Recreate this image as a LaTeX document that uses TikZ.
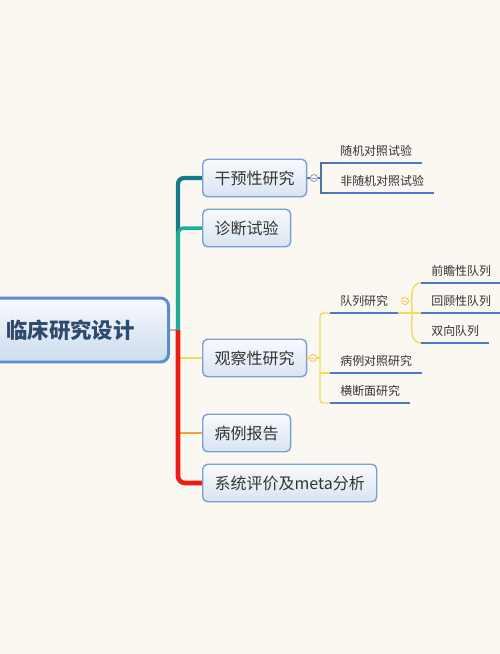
\documentclass[tikz,border=0pt]{standalone}
\usepackage{fontspec}
\setmainfont{Noto Sans CJK SC}
\usepackage{tikz}

\definecolor{paper}{HTML}{FBF8F2}
\definecolor{rootline}{HTML}{5B8ED0}
\definecolor{rootink}{HTML}{2E4A6E}
\definecolor{boxline}{HTML}{7AA0D2}
\definecolor{boxtop}{HTML}{F8FAFD}
\definecolor{boxbot}{HTML}{D9E4F2}
\definecolor{ink}{HTML}{333333}
\definecolor{dteal}{HTML}{157A8C}
\definecolor{lteal}{HTML}{1DAE98}
\definecolor{redline}{HTML}{EE1C10}
\definecolor{orangeline}{HTML}{F5A030}
\definecolor{yellowline}{HTML}{F3DA5C}
\definecolor{slate}{HTML}{5473A3}
\definecolor{ulblue}{HTML}{4A7AC8}

\begin{document}
\begin{tikzpicture}[x=0.02cm,y=-0.02cm,
    every node/.style={inner sep=0pt},
    rootbox/.style={draw=rootline, line width=1.7pt, rounded corners=0.16cm,
      top color=boxtop, bottom color=boxbot!90!rootline,
      minimum width=3.92cm, minimum height=1.28cm, anchor=east,
      font=\fontsize{12.2}{14}\selectfont\bfseries, text=rootink},
    topic/.style={draw=boxline, line width=0.8pt, rounded corners=0.1cm,
      top color=boxtop, bottom color=boxbot, anchor=west,
      minimum height=0.75cm, inner xsep=0.24cm,
      font=\fontsize{9.1}{11}\selectfont, text=ink},
    leaf/.style={anchor=south west, inner xsep=0.2cm, inner ysep=0.1cm,
      text height=0.88em, text depth=0.12em,
      font=\fontsize{6.8}{8}\selectfont, text=ink},
    uline/.style={draw=ulblue, line width=1.4pt},
    knob/.style={circle, draw=#1, fill=white, line width=0.5pt, minimum size=0.14cm,
      path picture={\draw[#1, line width=0.4pt]
        ([xshift=0.035cm]path picture bounding box.west) -- ([xshift=-0.035cm]path picture bounding box.east);}},
  ]
  \path[fill=paper, use as bounding box] (0,0) rectangle (500,654);

  % main topic and first level
  \node[rootbox] (root) at (170,330) {临床研究设计};
  \node[topic] (gy) at (202,178) {干预性研究};
  \node[topic] (zd) at (202,228) {诊断试验};
  \node[topic] (gc) at (202,358) {观察性研究};
  \node[topic] (bl) at (202,433) {病例报告};
  \node[topic] (xt) at (202,483) {系统评价及meta分析};

  % trunk
  \coordinate (tr) at (178,330);
  \draw[gray!60, line width=1pt] (root.east) -- (tr);
  \draw[dteal, line width=2.4pt, rounded corners=0.12cm] (tr) |- (gy.west);
  \draw[lteal, line width=2pt, rounded corners=0.12cm] (tr) |- (zd.west);
  \draw[yellowline, line width=1.2pt] (tr) |- (gc.west);
  \draw[orangeline, line width=1.2pt] (tr) |- (bl.west);
  \draw[redline, line width=2.6pt, rounded corners=0.14cm] (tr) |- (xt.west);

  % intervention studies
  \node[leaf] (r1) at (330,163) {随机对照试验};
  \node[leaf] (r2) at (330,193) {非随机对照试验};
  \node[knob=slate!70] (g1) at (314,178) {};
  \coordinate (gyj) at (321,178);
  \draw[slate, line width=0.8pt] (gy.east) -- (g1) -- (gyj);
  \draw[slate, line width=0.8pt] (r1.south west) -| (gyj) |- (r2.south west);
  \draw[uline] (r1.south west) -- (r1.south east);
  \draw[uline] (r2.south west) -- (r2.south east);

  % observational studies
  \node[leaf] (o1) at (330,313) {队列研究};
  \node[leaf] (o2) at (330,373) {病例对照研究};
  \node[leaf] (o3) at (330,403) {横断面研究};
  \node[knob=yellowline!80!orange] (g2) at (313,358) {};
  \coordinate (gcj) at (320,358);
  \draw[yellowline, line width=0.8pt] (gc.east) -- (g2) -- (gcj);
  \draw[yellowline, line width=0.8pt, rounded corners=0.06cm] (o1.south west) -| (gcj) |- (o3.south west);
  \draw[yellowline, line width=0.8pt] (gcj |- o2.south west) -- (o2.south west);
  \draw[uline] (o1.south west) -- (o1.south east);
  \draw[uline] (o2.south west) -- (o2.south east);
  \draw[uline] (o3.south west) -- (o3.south east);

  % cohort studies
  \node[leaf] (c1) at (421,283) {前瞻性队列};
  \node[leaf] (c2) at (421,313) {回顾性队列};
  \node[leaf] (c3) at (421,343) {双向队列};
  \node[knob=yellowline!80!orange] (g3) at (405,301) {};
  \draw[yellowline, line width=0.8pt] (o1.south east) -- (c2.south west);
  \draw[yellowline, line width=0.8pt] (c1.south west) to[out=180,in=90] (412,313)
    to[out=-90,in=180] (c3.south west);
  \draw[uline] (c1.south west) -- (c1.south east);
  \draw[uline] (c2.south west) -- (c2.south east);
  \draw[uline] (c3.south west) -- (c3.south east);
\end{tikzpicture}
\end{document}
